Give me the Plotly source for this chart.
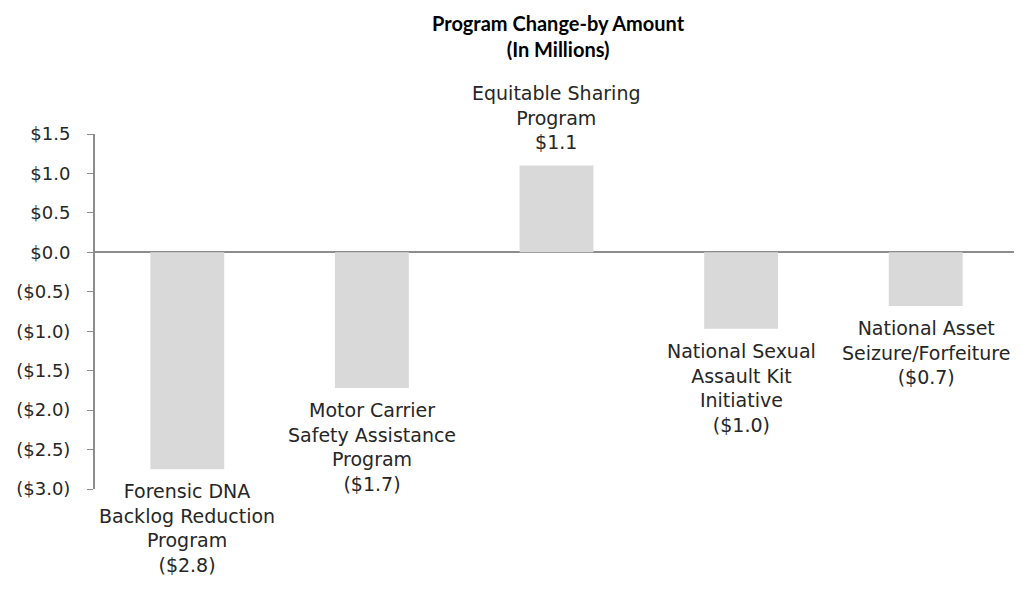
import plotly.graph_objects as go

programs = ['Forensic DNA<br>Backlog Reduction<br>Program',
            'Motor Carrier<br>Safety Assistance<br>Program',
            'Equitable Sharing<br>Program',
            'National Sexual<br>Assault Kit<br>Initiative',
            'National Asset<br>Seizure/Forfeiture']
amounts = [-2.75, -1.72, 1.10, -0.97, -0.68]
amount_labels = ['($2.8)', '($1.7)', '$1.1', '($1.0)', '($0.7)']
tick_vals = [1.5, 1.0, 0.5, 0.0, -0.5, -1.0, -1.5, -2.0, -2.5, -3.0]
tick_text = ['$1.5', '$1.0', '$0.5', '$0.0', '($0.5)', '($1.0)',
             '($1.5)', '($2.0)', '($2.5)', '($3.0)']
title_lines = ['Program Change-by Amount', '(In Millions)']

body_font = 'DejaVu Sans, sans-serif'
title_font = 'Lato, Open Sans, sans-serif'

fig = go.Figure()
fig.add_trace(
    go.Bar(
        x=list(range(len(programs))),
        y=amounts,
        marker=dict(color='#D9D9D9', line=dict(width=0)),
        width=0.4,
        hoverinfo='skip'))

# bar labels: below the negative bars, above the positive one
for i, (p, a, v) in enumerate(zip(programs, amount_labels, amounts)):
    fig.add_annotation(
        x=i, y=v, text=f'{p}<br>{a}',
        xref='x', yref='y', showarrow=False,
        yanchor='top' if v < 0 else 'bottom',
        yshift=-9 if v < 0 else 11,
        font=dict(size=19, color='#262626', family=body_font))

fig.add_annotation(
    text='<b>' + '<br>'.join(title_lines) + '</b>',
    xref='paper', yref='paper', x=0.502, y=1.352,
    xanchor='center', yanchor='top', showarrow=False,
    font=dict(size=20, color='#000000', family=title_font))

fig.update_layout(
    width=1012, height=586,
    margin=dict(l=87, r=2, t=126, b=105),
    plot_bgcolor='white',
    paper_bgcolor='white',
    showlegend=False,
    font=dict(family=body_font, color='#262626'))

fig.update_xaxes(
    range=[-0.5, 4.5],
    showticklabels=False,
    showgrid=False,
    zeroline=False,
    showline=False,
    ticks='')

fig.update_yaxes(
    range=[-3.0, 1.5],
    tickvals=tick_vals,
    ticktext=tick_text,
    tickfont=dict(size=18, color='#262626', family=body_font),
    showgrid=False,
    zeroline=True,
    zerolinecolor='#8C8C8C',
    zerolinewidth=2,
    showline=True,
    linecolor='#8C8C8C',
    linewidth=2,
    ticks='outside',
    ticklen=6,
    tickcolor='#8C8C8C',
    tickwidth=1,
    ticklabelstandoff=13)

fig.write_html('out.html')
